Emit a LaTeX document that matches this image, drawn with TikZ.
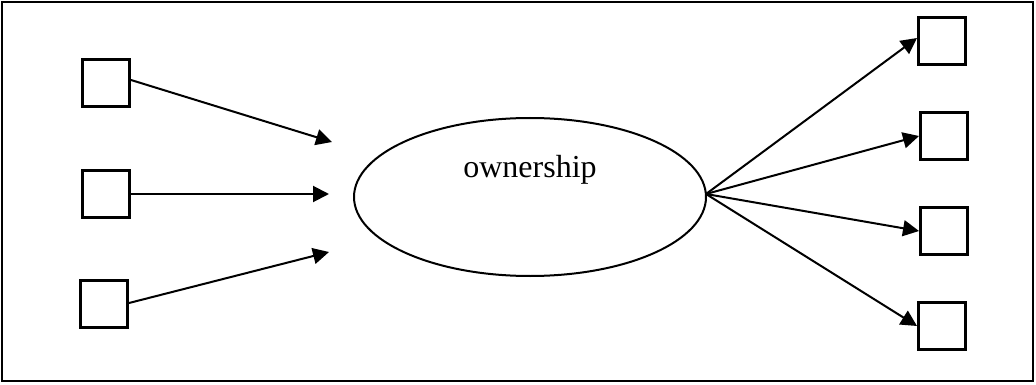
\documentclass[tikz,border=0pt]{standalone}
\usepackage{fontspec}
\setmainfont{Liberation Serif}
\usetikzlibrary{shapes.geometric,arrows.meta}
\begin{document}
\begin{tikzpicture}[x=1pt,y=-1pt,
  sq/.style={draw,line width=3pt,minimum width=47pt,minimum height=47pt,inner sep=0pt,outer sep=1.5pt},
  oval/.style={draw,ellipse,line width=2pt,minimum width=352pt,minimum height=158pt,inner sep=0pt},
  arr/.style={line width=2pt,-{Triangle[length=16pt,width=16pt]}}]
\useasboundingbox (0,0) rectangle (1036,385);
\draw[line width=2.5pt] (2,2) rectangle (1033,381);
\node[sq] (l1) at (106,83) {};
\node[sq] (l2) at (106,194) {};
\node[sq] (l3) at (104,304) {};
\node[oval] (own) at (530,197) {};
\node[font=\fontsize{32}{36}\selectfont] (lab) at (530,170) {ownership};
\coordinate (t1) at (332,142);
\coordinate (t2) at (329,194);
\coordinate (t3) at (329,252);
\draw[arr] (l1.east |- 131,80) -- (t1);
\draw[arr] (l2.east) -- (t2);
\draw[arr] (l3.east |- 129,303) -- (t3);
\node[sq] (r1) at (942,41) {};
\node[sq] (r2) at (944,136) {};
\node[sq] (r3) at (944,231) {};
\node[sq] (r4) at (942,326) {};
\coordinate (src) at (706,194);
\draw[arr] (src) -- (r1.west |- 0,38);
\draw[arr] (src) -- (r2.west);
\draw[arr] (src) -- (r3.west);
\draw[arr] (src) -- (r4.west);
\end{tikzpicture}
\end{document}
